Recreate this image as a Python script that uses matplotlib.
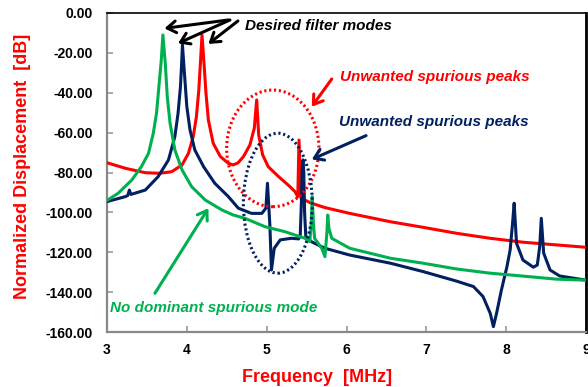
import matplotlib
matplotlib.use("Agg")
import matplotlib.pyplot as plt
from matplotlib.patches import Ellipse

plt.rcParams["font.family"] = ["Liberation Sans", "DejaVu Sans"]

# frequency response of the three filter designs
red_f = [3.00, 3.23, 3.48, 3.66, 3.81, 3.94, 4.02, 4.08, 4.12, 4.15, 4.17, 4.19, 4.215, 4.24,
         4.27, 4.33, 4.42, 4.52, 4.58, 4.64, 4.71, 4.79, 4.845, 4.875, 4.90, 4.95, 5.02, 5.15,
         5.27, 5.355, 5.39, 5.405, 5.43, 5.56, 5.73, 6.04, 6.55, 6.96, 7.38, 7.80, 8.22, 9.00]
red_db = [-75.1, -77.9, -80.1, -80.4, -79.6, -76.2, -70.4, -62.0, -52.0, -38.6, -25.2, -11.0,
          -25.2, -40.3, -53.7, -65.3, -72.0, -75.4, -76.2, -75.2, -72.0, -66.2, -57.8, -43.6,
          -61.2, -71.2, -77.1, -82.1, -86.3, -89.6, -92.1, -63.7, -92.9, -95.4, -97.6, -100.5,
          -104.7, -107.5, -110.5, -113.0, -115.0, -117.5]

navy_f = [3.00, 3.23, 3.26, 3.28, 3.30, 3.48, 3.64, 3.77, 3.85, 3.89, 3.92, 3.935, 3.945, 3.97,
          4.00, 4.04, 4.10, 4.21, 4.35, 4.52, 4.645, 4.81, 4.94, 4.99, 5.01, 5.04, 5.06, 5.095,
          5.17, 5.31, 5.40, 5.42, 5.435, 5.445, 5.455, 5.465, 5.475, 5.49, 5.56, 5.73, 6.04,
          6.55, 6.96, 7.38, 7.59, 7.71, 7.80, 7.84, 7.88, 7.94, 8.01, 8.05, 8.08, 8.10, 8.13,
          8.21, 8.34, 8.39, 8.42, 8.44, 8.47, 8.55, 8.67, 9.00]
navy_db = [-94.6, -92.1, -91.5, -88.8, -91.0, -88.8, -82.1, -73.7, -62.0, -50.3, -37.0, -25.2,
           -16.0, -30.2, -47.0, -58.7, -68.7, -77.1, -85.4, -92.1, -97.9, -100.5, -100.5, -97.9,
           -85.4, -106.3, -128.9, -118.0, -113.8, -113.0, -113.3, -112.0, -95.0, -78.0, -73.7,
           -80.0, -100.0, -112.0, -114.7, -118.0, -121.4, -125.5, -129.7, -134.5, -137.2,
           -142.2, -150.6, -157.3, -150.6, -139.0, -127.2, -118.8, -105.5, -95.4, -115.5,
           -123.9, -127.5, -126.4, -117.2, -103.0, -120.5, -128.9, -131.9, -134.0]

green_f = [3.00, 3.14, 3.31, 3.43, 3.52, 3.58, 3.62, 3.65, 3.68, 3.70, 3.73, 3.755, 3.79, 3.85,
           3.94, 4.06, 4.23, 4.44, 4.58, 4.73, 4.98, 5.23, 5.48, 5.54, 5.56, 5.57, 5.585, 5.60,
           5.69, 5.73, 5.755, 5.765, 5.78, 5.815, 6.04, 6.55, 6.96, 7.38, 7.80, 8.22, 8.63, 9.00]
green_db = [-94.0, -90.4, -83.8, -77.1, -70.4, -60.3, -50.3, -37.0, -23.6, -11.0, -25.2, -42.0,
            -55.3, -68.7, -78.7, -87.1, -93.8, -98.8, -101.3, -103.0, -107.2, -109.7, -113.0,
            -114.7, -105.0, -92.1, -105.0, -113.0, -118.0, -122.2, -110.0, -101.3, -108.0,
            -113.0, -118.0, -123.0, -125.5, -128.4, -130.5, -132.0, -133.5, -134.0]

x_ticks = [3, 4, 5, 6, 7, 8, 9]
y_ticks = [0, -20, -40, -60, -80, -100, -120, -140, -160]

RED = "#FF0000"
NAVY = "#002060"
GREEN = "#00B050"

fig = plt.figure(figsize=(5.88, 3.87), dpi=100)
ax = fig.add_axes([107 / 588, 1 - 332 / 387, 479 / 588, 319 / 387])

line_kw = dict(lw=2.2, solid_joinstyle="round", solid_capstyle="round")
ax.plot(red_f, red_db, color=RED, zorder=3, **line_kw)
ax.plot(navy_f, navy_db, color=NAVY, zorder=4, **line_kw)
ax.plot(green_f, green_db, color=GREEN, zorder=5, **line_kw)

ax.set_xlim(3, 9)
ax.set_ylim(-160, 0)
ax.set_xticks(x_ticks)
ax.set_xticklabels([str(v) for v in x_ticks], fontsize=10, fontweight="bold")
ax.set_yticks(y_ticks)
ax.set_yticklabels([f"{v:.2f}" for v in y_ticks], fontsize=10, fontweight="bold")
ax.tick_params(direction="in", length=4, width=1.2, color="#999999")
ax.tick_params(axis="x", pad=8)
ax.tick_params(axis="y", pad=10)

for side in ("left", "bottom"):
    ax.spines[side].set_color("#888888")
    ax.spines[side].set_linewidth(1.6)
ax.spines["top"].set_linewidth(1.2)
ax.spines["right"].set_linewidth(2.0)

# dotted circles around the spurious peaks
ax.add_patch(Ellipse((5.077, -67.9), 1.156, 58.5, fill=False, ec=RED, lw=2.2,
                     ls=(0, (0.7, 0.9)), zorder=6))
ax.add_patch(Ellipse((5.14, -95.4), 0.864, 70.2, fill=False, ec=NAVY, lw=2.2,
                     ls=(0, (0.7, 0.9)), zorder=6))

arrow = dict(arrowstyle="->, head_length=0.45, head_width=0.3", lw=2.2, mutation_scale=14,
             shrinkA=0, shrinkB=0)

# desired modes
for tail, head in [((4.52, -3.5), (3.72, -7.7)),
                   ((4.54, -3.5), (3.89, -15.2)),
                   ((4.64, -4.0), (4.27, -15.5))]:
    ax.annotate("", xy=head, xytext=tail, arrowprops=dict(arrow, color="black"), zorder=7)
ax.text(4.73, -6.5, "Desired filter modes", fontsize=11, fontweight="bold", style="italic",
        color="black", va="center", ha="left")

ax.annotate("", xy=(5.565, -47.0), xytext=(5.815, -33.1),
            arrowprops=dict(arrow, color=RED), zorder=7)
ax.text(5.92, -32.0, "Unwanted spurious peaks", fontsize=11, fontweight="bold",
        style="italic", color=RED, va="center", ha="left")

ax.annotate("", xy=(5.565, -73.4), xytext=(6.245, -61.5),
            arrowprops=dict(arrow, color=NAVY), zorder=7)
ax.text(5.906, -54.5, "Unwanted spurious peaks", fontsize=11, fontweight="bold",
        style="italic", color=NAVY, va="center", ha="left")

ax.annotate("", xy=(4.27, -97.9), xytext=(3.60, -140.6),
            arrowprops=dict(arrow, color=GREEN), zorder=7)
ax.text(3.04, -148.0, "No dominant spurious mode", fontsize=11, fontweight="bold",
        style="italic", color=GREEN, va="center", ha="left")

fig.text(317.5 / 588, 1 - 378 / 387, "Frequency  [MHz]", fontsize=13, fontweight="bold",
         color=RED, ha="center", va="center")
fig.text(22.7 / 588, 1 - 166 / 387, "Normalized Displacement  [dB]", fontsize=13,
         fontweight="bold", color=RED, ha="center", va="center", rotation=90)

fig.savefig("out.png", dpi=100)
